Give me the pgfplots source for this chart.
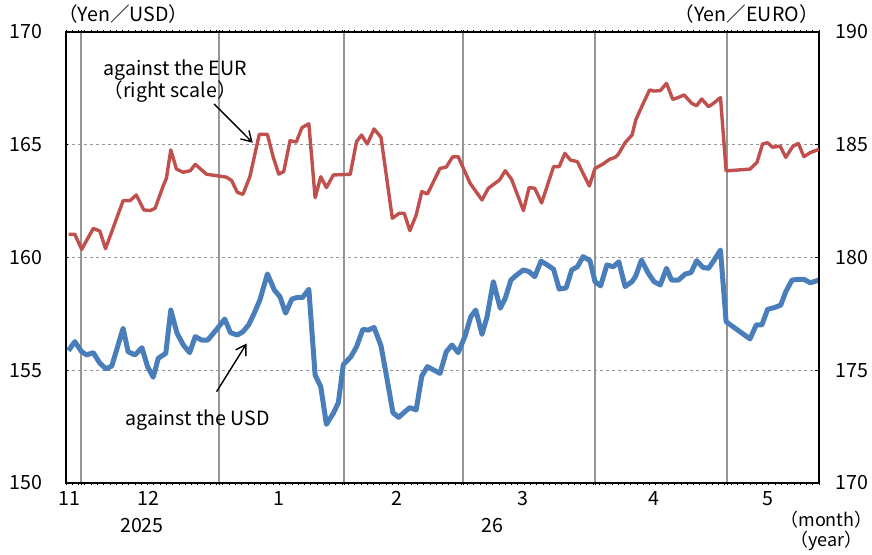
\documentclass[border=0pt]{standalone}
\usepackage{pgfplots}
\pgfplotsset{compat=1.18}
\usepackage{pgfplotstable}
\usetikzlibrary{arrows.meta}
\usepackage{fontspec}
\setmainfont{Noto Sans CJK JP}
\definecolor{eurred}{RGB}{192,80,77}
\definecolor{usdblue}{RGB}{74,126,187}
\definecolor{gridgray}{RGB}{150,150,150}

\pgfplotstableread{
x y
0.4 155.87
1.4 156.27
2.5 155.82
3.3 155.68
4.35 155.78
5.4 155.31
6.4 155.06
7.3 155.19
9.1 156.86
9.9 155.82
11.0 155.68
12.1 156.00
13.0 155.16
13.9 154.69
14.7 155.53
15.9 155.75
16.7 157.67
17.7 156.64
18.7 156.12
19.7 155.78
20.6 156.49
21.6 156.34
22.6 156.34
24.0 156.81
25.3 157.27
26.2 156.67
27.3 156.56
28.2 156.71
29.1 157.01
30.0 157.53
30.9 158.12
32.1 159.27
33.2 158.56
34.1 158.26
35.0 157.53
36.0 158.16
36.9 158.23
37.7 158.23
38.7 158.59
39.7 154.79
40.6 154.27
41.5 152.60
42.6 153.09
43.4 153.56
44.2 155.25
45.4 155.60
46.3 156.04
47.3 156.81
48.2 156.78
49.1 156.90
50.2 156.08
51.1 154.71
52.1 153.12
53.0 152.91
54.0 153.16
54.8 153.34
55.8 153.24
56.7 154.74
57.6 155.16
59.6 154.86
60.6 155.82
61.5 156.12
62.5 155.78
63.6 156.52
64.5 157.37
65.3 157.67
66.3 156.59
67.1 157.37
68.1 158.93
69.2 157.75
70.0 158.19
70.9 159.00
71.8 159.22
72.9 159.45
73.8 159.37
74.7 159.15
75.7 159.84
76.7 159.67
77.7 159.48
78.6 158.60
79.7 158.65
80.6 159.45
81.5 159.59
82.4 160.04
83.5 159.86
84.3 158.93
85.2 158.74
86.2 159.67
87.2 159.59
88.1 159.81
89.1 158.71
90.2 158.93
90.8 159.18
91.7 159.89
92.8 159.30
93.7 158.93
94.7 158.78
95.7 159.52
96.5 159.00
97.6 159.00
98.7 159.27
99.6 159.33
100.5 159.86
101.5 159.56
102.4 159.52
103.3 159.89
104.3 160.33
105.2 157.15
109.0 156.39
110.0 157.01
110.9 157.01
111.8 157.70
113.0 157.79
113.9 157.89
114.7 158.48
115.7 159.00
116.7 159.03
117.6 159.03
118.6 158.88
120.0 159.00
}\usdtable

\pgfplotstableread{
x y
0.4 181.03
1.4 181.03
2.5 180.36
4.35 181.29
5.4 181.17
6.3 180.39
9.1 182.52
10.2 182.52
11.2 182.77
12.4 182.11
13.4 182.08
14.2 182.18
15.5 183.18
16.0 183.51
16.7 184.77
17.6 183.92
18.7 183.78
19.8 183.85
20.6 184.13
22.4 183.69
24.0 183.63
25.6 183.56
26.4 183.41
27.3 182.89
28.2 182.80
29.3 183.58
30.8 185.46
32.1 185.46
33.0 184.47
33.9 183.70
34.7 183.81
35.7 185.18
36.7 185.12
37.6 185.76
38.7 185.93
39.7 182.65
40.6 183.58
41.5 183.10
42.6 183.66
45.3 183.69
46.3 185.14
47.1 185.43
48.0 185.03
49.1 185.70
50.2 185.33
52.0 181.74
53.1 181.96
53.9 181.96
54.8 181.19
55.8 181.88
56.7 182.92
57.6 182.82
59.6 183.95
60.6 184.01
61.6 184.46
62.5 184.47
64.4 183.29
66.3 182.55
67.3 183.07
69.1 183.44
70.0 183.85
71.0 183.47
72.9 182.08
73.8 183.10
74.7 183.07
75.8 182.42
77.7 184.03
78.6 184.03
79.5 184.62
80.4 184.32
81.5 184.25
82.4 183.73
83.4 183.17
84.3 183.95
85.6 184.15
86.6 184.35
87.5 184.44
88.0 184.57
89.1 185.09
90.2 185.43
90.8 186.10
91.7 186.66
93.0 187.43
93.7 187.38
94.7 187.40
95.7 187.72
96.7 187.01
97.6 187.10
98.5 187.21
99.7 186.84
100.5 186.73
101.3 187.03
102.4 186.69
103.2 186.84
104.3 187.09
105.2 183.84
109.0 183.92
110.1 184.21
111.0 185.03
111.8 185.09
112.6 184.89
113.8 184.94
114.7 184.44
115.8 184.92
116.7 185.06
117.6 184.47
118.6 184.65
120.0 184.80
}\eurtable

\begin{document}
\fontsize{9.8}{11.5}\selectfont
\begin{tikzpicture}
\begin{axis}[
  name=main,
  width=376.5pt, height=225.5pt, scale only axis,
  xmin=0, xmax=120, ymin=150, ymax=170,
  clip=false,
  axis line style={line width=1.3pt},
  /pgf/number format/assume math mode=true,
  ytick={150,155,160,165,170},
  yticklabel style={anchor=east, inner sep=0pt, xshift=-11.5pt},
  ytick align=inside,
  ymajorgrids,
  major y grid style={gridgray, dash pattern=on 1.5pt off 1.5pt, line width=0.6pt},
  xtick={2.39,24.38,44.3,63.27,84.3,105.34},
  xticklabels={},
  xmajorgrids,
  major x grid style={gridgray, line width=0.6pt},
  minor xtick={0,1,...,120},
  xtick align=outside,
  major tick length=1.2pt, minor tick length=1.2pt,
  tick style={black, line width=0.4pt},
  extra x ticks={0.5,13.1,33.9,52.75,72.8,93.7,111.9},
  extra x tick labels={11,12,1,2,3,4,5},
  extra x tick style={major tick length=0pt, xmajorgrids=false, xticklabel style={anchor=north, inner sep=0pt, yshift=-4pt}},
]
\addplot[usdblue, line width=2.5pt, line join=round] table[x=x,y=y]{\usdtable};
\node[anchor=west, inner sep=0pt, align=left] at (axis cs:5.9,168.31) {against the EUR};
\node[anchor=west, inner sep=0pt, align=left] at (axis cs:5.9,167.34) {（right scale）};
\draw[-{Straight Barb[length=5pt,width=6pt]}, line width=0.7pt] (axis cs:23.6,166.81) -- (axis cs:29.75,165.09);
\node[inner sep=0pt] at (axis cs:20.96,152.79) {against the USD};
\draw[-{Straight Barb[length=5pt,width=6pt]}, line width=0.7pt] (axis cs:24.0,154.05) -- (axis cs:28.8,156.19);
\node[anchor=north, inner sep=0pt] at (axis cs:12.1,150) [yshift=-17.5pt] {2025};
\node[anchor=north, inner sep=0pt] at (axis cs:68.0,150) [yshift=-17.5pt] {26};
\node[inner sep=0pt, font=\fontsize{9}{10}\selectfont] at (axis cs:121.2,150) [yshift=-18.5pt] {（month）};
\node[inner sep=0pt, font=\fontsize{9}{10}\selectfont] at (axis cs:121.2,150) [yshift=-29pt] {（year）};
\node[anchor=west, inner sep=0pt] at (axis cs:-1.3,170) [yshift=9pt] {（Yen／USD）};
\node[anchor=east, inner sep=0pt] at (axis cs:120,170) [yshift=9pt] {（Yen／EURO）};
\end{axis}
\begin{axis}[
  width=376.5pt, height=225.5pt, scale only axis,
  xmin=0, xmax=120, ymin=170, ymax=190,
  axis x line=none,
  axis y line*=right,
  axis line style={line width=1.3pt, -},
  /pgf/number format/assume math mode=true,
  ytick={170,175,180,185,190},
  yticklabel style={anchor=west, inner sep=0pt, xshift=8pt},
  ytick align=inside,
  major tick length=2pt,
  tick style={black, line width=0.5pt},
]
\addplot[eurred, line width=1.7pt, line join=round] table[x=x,y=y]{\eurtable};
\end{axis}
\pgfresetboundingbox
\path ([xshift=-33pt,yshift=16pt]main.north west) rectangle ([xshift=26.5pt,yshift=-36pt]main.south east);
\end{tikzpicture}
\end{document}
